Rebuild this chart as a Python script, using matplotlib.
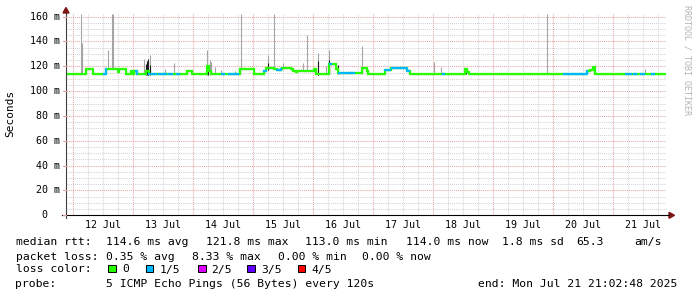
import numpy as np
import matplotlib
matplotlib.use('Agg')
import matplotlib.pyplot as plt
from matplotlib import transforms
from matplotlib.patches import Rectangle, Polygon
from matplotlib.lines import Line2D

# time axis: hours since start (Jul 11 21:02:48), 10 days shown
t_end = 240.0
first_midnight = 2.9533   # Jul 12 00:00
day_labels = ['12 Jul', '13 Jul', '14 Jul', '15 Jul', '16 Jul',
              '17 Jul', '18 Jul', '19 Jul', '20 Jul', '21 Jul']

# median rtt (ms), step changes: (hour, value)
med_t = [0.0, 7.8, 10.6, 15.8, 20.6, 21.2, 23.8, 25.9, 26.6, 27.2, 28.4, 32.0, 33.2,
         48.3, 50.5, 56.5, 57.2, 58.0, 69.6, 75.2, 79.0, 79.9, 80.5, 83.2, 84.4, 86.0,
         86.5, 89.9, 90.8, 91.9, 92.4, 99.2, 100.0, 105.2, 107.9, 108.8, 116.5, 118.5,
         120.5, 120.8, 127.5, 130.1, 136.5, 137.4, 159.5, 160.4, 161.2, 208.5, 209.6,
         210.8, 211.6]
med_v = [114, 117.5, 114, 117.5, 115.3, 117.5, 114, 116.5, 114, 116, 114, 116.5, 114,
         116.5, 114, 120, 116, 114, 117.5, 114, 116, 119, 118.5, 118, 117, 118,
         119, 117.5, 116.5, 115.5, 116, 118, 114, 121.5, 118, 115, 114.5, 118.3,
         116, 114, 117, 119, 116.5, 114, 118, 115.5, 114, 116, 117,
         119.5, 114]

# periods with 1/5 packet loss (hour from, hour to)
loss_1of5 = [(15.2, 15.8), (28.0, 28.4), (33.2, 33.6), (34.5, 35.9), (37.2, 39.2),
             (39.2, 40.0), (41.2, 42.4), (44.3, 45.2), (62.4, 63.2), (65.2, 67.2),
             (68.0, 68.8), (79.2, 79.8), (84.4, 86.0), (105.6, 106.0), (109.2, 113.9),
             (114.4, 115.2), (127.6, 129.6), (130.4, 131.2), (131.9, 135.2), (135.9, 137.2),
             (150.8, 151.1), (161.8, 162.1), (187.8, 188.1), (199.2, 205.9), (206.5, 208.5),
             (223.9, 224.5), (225.2, 225.9), (227.2, 227.9), (229.9, 231.2), (234.4, 235.2)]

# smoke: (hour, low ms, high ms, dark)
smoke = [(6.1, 114, 162, 0), (6.5, 114, 138.5, 0), (16.9, 117.5, 133, 0),
         (18.5, 117.5, 162, 0), (18.9, 117.5, 162, 0), (31.2, 114, 126, 0),
         (32.0, 113, 122, 1), (32.4, 113, 124, 1), (32.8, 113, 126, 1),
         (33.4, 114, 129, 0), (33.6, 113, 121, 1), (39.6, 114, 117.5, 0),
         (43.2, 113, 122.5, 0), (56.5, 113, 133, 0), (56.8, 113, 121, 1),
         (57.6, 113, 125, 0), (58.1, 114, 123.6, 0), (59.6, 114, 119.6, 0),
         (61.8, 114, 117, 0), (67.6, 114, 116, 0), (70.1, 117.5, 162, 0),
         (80.8, 117, 129, 0), (80.8, 117, 123, 1), (83.2, 118, 162, 0),
         (86.9, 119, 122.6, 0), (93.9, 116, 118, 0), (94.9, 116, 122.6, 0),
         (96.3, 116, 145, 0), (100.9, 113, 130.5, 0), (100.9, 113, 124, 1),
         (104.0, 114, 120, 0), (105.3, 114, 133.5, 0), (105.3, 114, 125, 1),
         (108.8, 114, 121, 1), (118.5, 114, 136, 0), (147.3, 114, 123.6, 0),
         (150.1, 114, 119.6, 0), (160.0, 114, 118, 1), (192.2, 114, 162, 0),
         (211.0, 114, 119.6, 1), (231.6, 114, 118, 0)]

loss_names = ['0', '1/5', '2/5', '3/5', '4/5']
loss_colors = ['#26ff00', '#00b8ff', '#dd00ff', '#5e00ff', '#ff0000']

W, H = 697, 297
mono = 'DejaVu Sans Mono'


def fx(x):
    return x / W


def fy(y):
    return 1 - y / H


fig = plt.figure(figsize=(W / 100, H / 100), dpi=100)
fig.patch.set_facecolor('white')
y0px, pxms = 215.3, 1.2417
ymax = 162
ax = fig.add_axes([fx(66), fy(y0px), 600 / W, ymax * pxms / H])
ax.set_xlim(0, t_end)
ax.set_ylim(0, ymax)
for s in ax.spines.values():
    s.set_visible(False)
ax.set_xticks([])
ax.set_yticks([])

# grid
minor_c, major_c = '#d4d4d4', '#e8a4a4'
dot = (0, (1, 1))
for v in np.arange(5, 161, 5):
    ax.axhline(v, color=major_c if v % 20 == 0 else minor_c, lw=0.75, ls=dot, zorder=0)
for k in range(-1, 41):
    t = first_midnight + 6 * k
    if 0 < t < t_end:
        ax.axvline(t, color=major_c if k % 4 == 0 else minor_c, lw=0.75, ls=dot, zorder=0)

# smoke
for t, lo, hi, dk in smoke:
    ax.vlines(t, lo, hi, colors='#1e1e1e' if dk else '#a4a4a4', lw=0.8, zorder=2)

# median
tt = np.array(med_t + [t_end])
vv = np.array(med_v + [med_v[-1]])
ax.step(tt, vv, where='post', color='black', lw=0.8, zorder=3)
ax.step(tt, vv, where='post', color=loss_colors[0], lw=1.6, zorder=4,
        solid_joinstyle='miter')
for a, b in loss_1of5:
    ts = [a] + [t for t in med_t if a < t < b] + [b]
    idx = np.searchsorted(tt, ts, side='right') - 1
    ax.step(ts, vv[idx], where='post', color=loss_colors[1], lw=1.6, zorder=5)

# axis lines and arrows
arrow_c = '#7f1515'
fig.add_artist(Line2D([fx(66), fx(66)], [fy(218), fy(13)], color='#404040', lw=0.8))
fig.add_artist(Line2D([fx(62), fx(669)], [fy(215.3), fy(215.3)], color='black', lw=0.8))
fig.add_artist(Polygon([(fx(66), fy(7.5)), (fx(63), fy(13)), (fx(69), fy(13))],
                       closed=True, color=arrow_c, transform=fig.transFigure))
fig.add_artist(Polygon([(fx(674.5), fy(215.3)), (fx(669), fy(212.3)), (fx(669), fy(218.3))],
                       closed=True, color=arrow_c, transform=fig.transFigure))

# y tick labels
ytr = transforms.blended_transform_factory(fig.transFigure, ax.transData)
for v in range(0, 161, 20):
    lab = '%3d m' % v if v else '  0'
    ax.text(fx(29.5), v, lab, transform=ytr, ha='left', va='center',
            fontsize=7.2, family=mono)
    fig.add_artist(Line2D([fx(62.5), fx(66)], [fy(y0px - v * pxms)] * 2,
                          color=major_c, lw=0.8))

# x tick labels at noon
xtr = transforms.blended_transform_factory(ax.transData, fig.transFigure)
for i, lab in enumerate(day_labels):
    ax.text(first_midnight + 12 + 24 * i, fy(224.5), lab, transform=xtr,
            ha='center', va='center', fontsize=7.2, family=mono)

fig.text(fx(10), fy(113), 'Seconds', rotation=90, ha='center', va='center',
         fontsize=8, family=mono)
fig.text(fx(686.5), fy(5), 'RRDTOOL / TOBI OETIKER', rotation=270, ha='center',
         va='top', fontsize=6, family=mono, color='#b4b4b4')

# legend (y = text baseline in px)
fs = 8.2
rows = [
    (245, [(15.5, 'median rtt:'), (106, '114.6 ms avg'), (206, '121.8 ms max'),
           (305, '113.0 ms min'), (405.5, '114.0 ms now'), (502, '1.8 ms sd'),
           (576, '65.3'), (634, 'am/s')]),
    (259.5, [(15.5, 'packet loss:'), (106, '0.35 % avg'), (192, '8.33 % max'),
             (278, '0.00 % min'), (362, '0.00 % now')]),
    (272.5, [(15.5, 'loss color:')]),
    (287.3, [(15.5, 'probe:'), (106, '5 ICMP Echo Pings (56 Bytes) every 120s'),
             (477.5, 'end: Mon Jul 21 21:02:48 2025')]),
]
for y, items in rows:
    for x, s in items:
        fig.text(fx(x), fy(y), s, ha='left', va='baseline', fontsize=fs, family=mono)

box_x = [108.3, 145.7, 198.3, 247.3, 297.7]
lab_x = [122.5, 159.5, 211, 261, 311.5]
for bx, lx, name, c in zip(box_x, lab_x, loss_names, loss_colors):
    fig.add_artist(Rectangle((fx(bx), fy(272)), 7.5 / W, 7.5 / H, facecolor=c,
                             edgecolor='black', lw=0.7, transform=fig.transFigure))
    fig.text(fx(lx), fy(272.5), name, ha='left', va='baseline', fontsize=fs, family=mono)

fig.savefig('out.png', dpi=100)
